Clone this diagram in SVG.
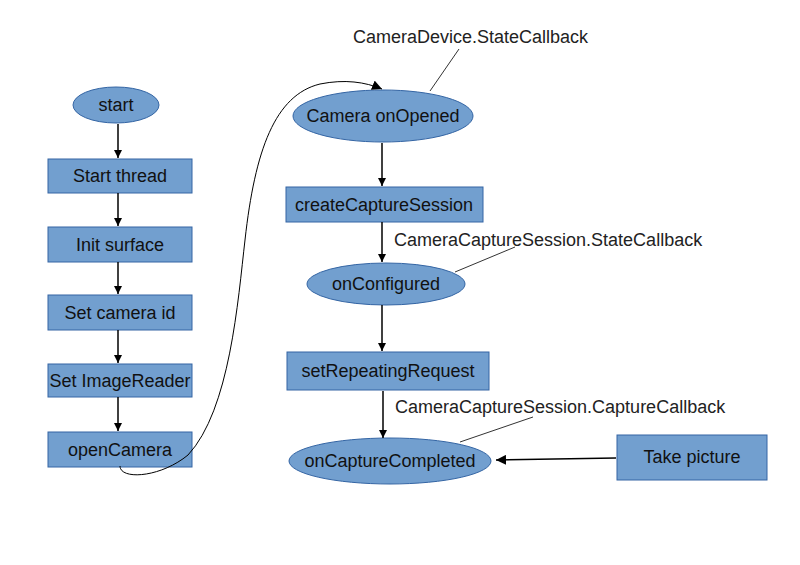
<svg xmlns="http://www.w3.org/2000/svg" width="800" height="565" viewBox="0 0 800 565">
<defs>
<marker id="ah" viewBox="0 0 10 10" refX="10" refY="5" markerWidth="8" markerHeight="8" markerUnits="userSpaceOnUse" orient="auto">
<path d="M0,0 L10,5 L0,10 z" fill="#000"/>
</marker>
<marker id="ah2" viewBox="0 0 10 10" refX="10" refY="5" markerWidth="10" markerHeight="10" markerUnits="userSpaceOnUse" orient="auto">
<path d="M0,0 L10,5 L0,10 z" fill="#000"/>
</marker>
</defs>
<style>
.n{fill:#729fcf;stroke:#3465a4;stroke-width:1}
.t{font-family:"Liberation Sans",Arial,sans-serif;font-size:18px;fill:#111;text-anchor:middle}
.l{font-family:"Liberation Sans",Arial,sans-serif;font-size:18px;fill:#222}
.c{stroke:#000;stroke-width:1.5;fill:none}
.cv{stroke:#000;stroke-width:1;fill:none}
.ld{stroke:#333;stroke-width:1;fill:none}
</style>
<rect width="800" height="565" fill="#fff"/>
<g id="start"><ellipse class="n" cx="116" cy="105" rx="43" ry="18"/><text class="t" x="116" y="111">start</text></g>
<g id="startThread"><rect class="n" x="48" y="159" width="144" height="34"/><text class="t" x="120" y="182">Start thread</text></g>
<g id="initSurface"><rect class="n" x="48" y="227" width="144" height="35"/><text class="t" x="120" y="251">Init surface</text></g>
<g id="setCameraId"><rect class="n" x="48" y="295" width="144" height="35"/><text class="t" x="120" y="319">Set camera id</text></g>
<g id="setImageReader"><rect class="n" x="48" y="364" width="144" height="33"/><text class="t" x="120" y="387">Set ImageReader</text></g>
<g id="openCamera"><rect class="n" x="48" y="432" width="144" height="35"/><text class="t" x="120" y="456">openCamera</text></g>
<g id="cameraOnOpened"><ellipse class="n" cx="383" cy="116" rx="90" ry="26"/><text class="t" x="383" y="122">Camera onOpened</text></g>
<g id="createCaptureSession"><rect class="n" x="286" y="187" width="197" height="35"/><text class="t" x="384" y="211">createCaptureSession</text></g>
<g id="onConfigured"><ellipse class="n" cx="386" cy="284" rx="79" ry="21"/><text class="t" x="386" y="290">onConfigured</text></g>
<g id="setRepeatingRequest"><rect class="n" x="287" y="352" width="202" height="38"/><text class="t" x="388" y="377">setRepeatingRequest</text></g>
<g id="onCaptureCompleted"><ellipse class="n" cx="390" cy="461" rx="101" ry="23"/><text class="t" x="390" y="467">onCaptureCompleted</text></g>
<g id="takePicture"><rect class="n" x="617" y="435" width="150" height="45"/><text class="t" x="692" y="463">Take picture</text></g>
<g id="connectors">
<line class="c" x1="118" y1="124" x2="118" y2="158" marker-end="url(#ah)"/>
<line class="c" x1="118" y1="193" x2="118" y2="226" marker-end="url(#ah)"/>
<line class="c" x1="118" y1="262" x2="118" y2="294" marker-end="url(#ah)"/>
<line class="c" x1="118" y1="330" x2="118" y2="363" marker-end="url(#ah)"/>
<line class="c" x1="118" y1="397" x2="118" y2="431" marker-end="url(#ah)"/>
<path class="cv" d="M120,466 C120,480 160,478 188,455 C230,410 238,300 245,240 C255,150 275,95 320,84 C345,79 365,82 382,89" marker-end="url(#ah2)"/>
<line class="c" x1="382" y1="143" x2="382" y2="186" marker-end="url(#ah)"/>
<line class="c" x1="382" y1="222" x2="382" y2="262" marker-end="url(#ah)"/>
<line class="c" x1="382" y1="305" x2="382" y2="351" marker-end="url(#ah)"/>
<line class="c" x1="383" y1="391" x2="383" y2="438" marker-end="url(#ah)"/>
<line class="c" x1="616" y1="458" x2="496" y2="460" marker-end="url(#ah2)"/>
<line class="ld" x1="430" y1="91" x2="459" y2="49"/>
<line class="ld" x1="455" y1="272" x2="515" y2="247"/>
<line class="ld" x1="460" y1="442" x2="533" y2="417"/>
</g>
<g id="labels">
<text class="l" x="353" y="43">CameraDevice.StateCallback</text>
<text class="l" x="394" y="246">CameraCaptureSession.StateCallback</text>
<text class="l" x="395" y="413">CameraCaptureSession.CaptureCallback</text>
</g>
</svg>
